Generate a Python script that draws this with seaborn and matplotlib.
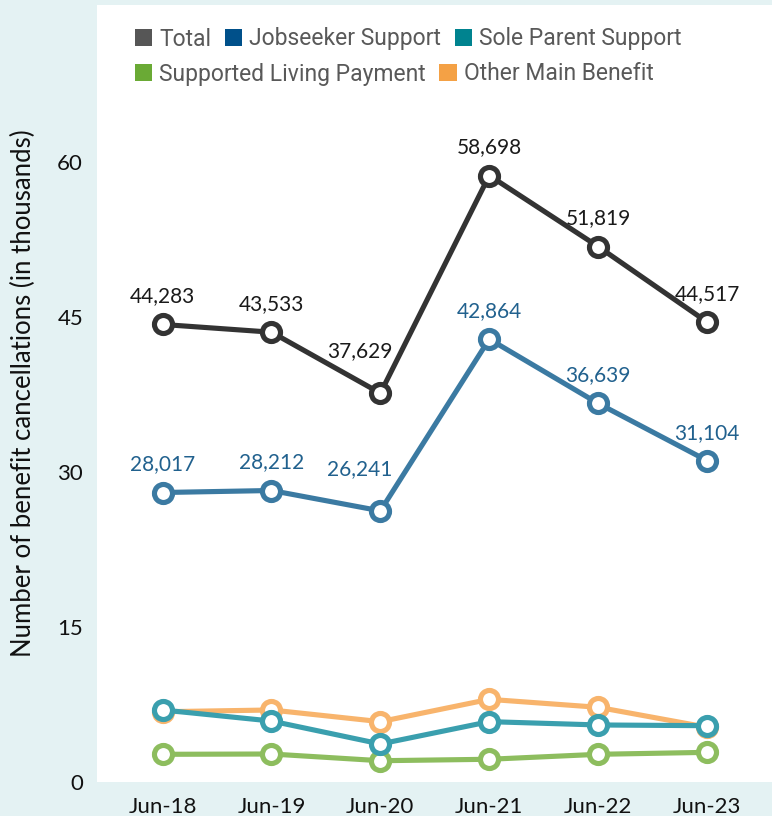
import matplotlib
matplotlib.use("Agg")
import matplotlib.pyplot as plt
from matplotlib.patches import Patch
import numpy as np
import pandas as pd
import seaborn as sns

# ---- data (thousands of benefit cancellations, year to June) ----
periods = ["Jun-18", "Jun-19", "Jun-20", "Jun-21", "Jun-22", "Jun-23"]
total = [44.283, 43.533, 37.629, 58.698, 51.819, 44.517]
jobseeker = [28.017, 28.212, 26.241, 42.864, 36.639, 31.104]
sole_parent = [6.97, 5.90, 3.68, 5.84, 5.52, 5.45]
supported_living = [2.68, 2.71, 2.06, 2.20, 2.68, 2.87]
other_main = [6.80, 6.97, 5.84, 8.00, 7.23, 5.30]
y_ticks = [0, 15, 30, 45, 60]

series_names = ["Total", "Jobseeker Support", "Sole Parent Support",
                "Supported Living Payment", "Other Main Benefit"]

df = pd.DataFrame({
    "period": periods * 5,
    "x": list(range(len(periods))) * 5,
    "series": np.repeat(series_names, len(periods)),
    "value": total + jobseeker + sole_parent + supported_living + other_main,
})

# ---- styling ----
sns.set_style("white")
plt.rcParams["font.family"] = ["Lato", "DejaVu Sans"]

BG = "#e4f2f3"
line_colors = {
    "Total": "#333333",
    "Jobseeker Support": "#3b7aa2",
    "Sole Parent Support": "#3a9fae",
    "Supported Living Payment": "#8dbd5e",
    "Other Main Benefit": "#f8b46c",
}
swatch_colors = {
    "Total": "#565656",
    "Jobseeker Support": "#00508a",
    "Sole Parent Support": "#00838f",
    "Supported Living Payment": "#6aaa35",
    "Other Main Benefit": "#f4a145",
}
# drawing order: later series sit on top
draw_order = ["Supported Living Payment", "Other Main Benefit",
              "Sole Parent Support", "Jobseeker Support", "Total"]

fig = plt.figure(figsize=(7.72, 8.16), dpi=100, facecolor=BG)
ax = fig.add_axes([97 / 772, 34 / 816, 675 / 772, 777 / 816])
ax.set_facecolor("white")

for z, name in enumerate(draw_order):
    sub = df[df["series"] == name]
    sns.lineplot(data=sub, x="x", y="value", ax=ax, color=line_colors[name],
                 linewidth=3.7, marker="o", markersize=13,
                 markerfacecolor="white", markeredgecolor=line_colors[name],
                 markeredgewidth=3.7, zorder=3 + z, legend=False)

ax.set_xlim(-0.602, 5.596)
ax.set_ylim(0, 75.2)
ax.set_xticks(range(len(periods)))
ax.set_xticklabels(periods)
ax.set_yticks(y_ticks)
ax.set_yticklabels([str(t) for t in y_ticks])
ax.tick_params(axis="both", length=0, labelsize=16, colors="#111111")
ax.tick_params(axis="y", pad=10)
ax.tick_params(axis="x", pad=11)
for s in ax.spines.values():
    s.set_visible(False)
ax.set_xlabel("")
ax.set_ylabel("Number of benefit cancellations (in thousands)",
              fontsize=18.5, color="#111111", labelpad=15)

# value labels above the Total and Jobseeker Support points
label_offsets = [(0, 28), (0, 28), (-21, 42), (0, 28), (0, 28), (0, 28)]
for vals, col in [(total, "#1a1a1a"), (jobseeker, "#21618e")]:
    for i, v in enumerate(vals):
        dx, dy = label_offsets[i]
        ax.annotate(f"{round(v * 1000):,}", xy=(i, v), xytext=(dx, dy),
                    textcoords="offset pixels", ha="center", va="center",
                    fontsize=15, color=col, zorder=20)

# legend in two rows
def make_handles(names):
    return [Patch(facecolor=swatch_colors[n], edgecolor="none", label=n) for n in names]

leg_kw = dict(frameon=False, labelcolor="#595959",
              handlelength=0.75, handleheight=0.75, handletextpad=0.3,
              columnspacing=0.6, borderpad=0, borderaxespad=0,
              prop={"family": ["Roboto", "DejaVu Sans"], "size": 16.5})
fig.legend(handles=make_handles(series_names[:3]), loc="center left",
           bbox_to_anchor=(135 / 772, 1 - 39 / 816), ncol=3, **leg_kw)
fig.legend(handles=make_handles(series_names[3:]), loc="center left",
           bbox_to_anchor=(135 / 772, 1 - 74 / 816), ncol=2, **leg_kw)

fig.savefig("out.png", dpi=100, facecolor=BG)
